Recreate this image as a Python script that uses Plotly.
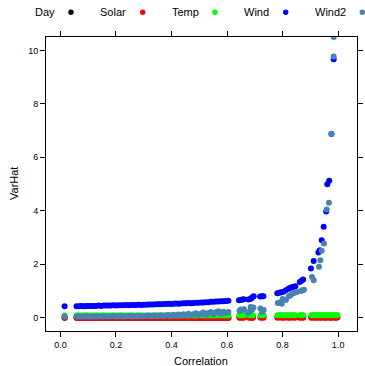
import plotly.graph_objects as go

# ---------------- data ----------------
series_names = ["Day", "Solar", "Temp", "Wind", "Wind2"]
series_colors = ["#000000", "#FF0000", "#00FF00", "#0000FF", "#4682B4"]

# correlation values shared by Day / Solar / Temp
corr = [
    0.015,
    0.058, 0.066, 0.075, 0.084, 0.093, 0.101, 0.110, 0.119, 0.128, 0.137,
    0.146, 0.155, 0.164, 0.173, 0.182, 0.191, 0.200, 0.209, 0.218, 0.227,
    0.236, 0.245, 0.254, 0.263, 0.272, 0.281, 0.290, 0.299, 0.308, 0.317,
    0.326, 0.335, 0.344, 0.353, 0.362, 0.371, 0.380, 0.389, 0.398, 0.407,
    0.416, 0.425, 0.434, 0.443, 0.452, 0.461, 0.470, 0.479, 0.488, 0.497,
    0.506, 0.515, 0.524, 0.533, 0.542, 0.551, 0.560, 0.569, 0.578, 0.587,
    0.596, 0.605,
    0.645, 0.650, 0.655, 0.660, 0.679, 0.684, 0.689, 0.693, 0.721, 0.726, 0.731,
    0.782, 0.790, 0.798, 0.806, 0.814, 0.822, 0.830, 0.838, 0.845, 0.863, 0.868, 0.874,
    0.904, 0.910, 0.916, 0.922, 0.928, 0.934, 0.940, 0.946, 0.952, 0.958, 0.964,
    0.970, 0.976, 0.982, 0.988, 0.994, 0.997,
]

day = [
    0.00,
    0.00, 0.00, 0.00, 0.00, 0.00, 0.00, 0.00, 0.00, 0.00, 0.00,
    0.00, 0.00, 0.00, 0.00, 0.00, 0.00, 0.00, 0.00, 0.00, 0.00,
    0.00, 0.00, 0.00, 0.00, 0.00, 0.00, 0.00, 0.00, 0.00, 0.00,
    0.00, 0.00, 0.00, 0.00, 0.00, 0.00, 0.00, 0.00, 0.00, 0.00,
    0.00, 0.00, 0.00, 0.00, 0.00, 0.00, 0.00, 0.00, 0.00, 0.00,
    0.00, 0.00, 0.00, 0.00, 0.00, 0.00, 0.00, 0.00, 0.00, 0.00,
    0.00, 0.00,
    0.01, 0.01, 0.01, 0.01, 0.01, 0.01, 0.01, 0.01, 0.01, 0.01, 0.01,
    0.01, 0.01, 0.01, 0.01, 0.01, 0.01, 0.01, 0.01, 0.01, 0.01, 0.01, 0.01,
    0.01, 0.01, 0.01, 0.01, 0.01, 0.01, 0.01, 0.01, 0.01, 0.01, 0.01,
    0.01, 0.01, 0.01, 0.01, 0.01, 0.01,
]

solar = [
    0.00,
    0.00, -0.01, 0.00, 0.00, -0.01, 0.00, 0.00, -0.01, 0.00, 0.00,
    -0.01, 0.00, 0.00, 0.00, -0.01, 0.00, 0.00, -0.01, 0.00, 0.00,
    0.00, -0.01, 0.00, 0.00, 0.00, -0.01, 0.00, 0.00, 0.00, -0.01,
    0.00, 0.00, 0.00, -0.01, 0.00, 0.00, 0.00, -0.01, 0.00, 0.00,
    -0.01, 0.00, 0.00, 0.00, -0.01, 0.00, 0.00, 0.00, -0.01, 0.00,
    0.00, -0.01, 0.00, 0.00, 0.00, -0.01, 0.00, 0.00, -0.01, 0.00,
    0.00, -0.01,
    0.00, 0.00, 0.01, 0.00, 0.00, 0.01, 0.00, 0.00, 0.00, 0.01, 0.00,
    0.00, 0.01, 0.00, 0.00, 0.01, 0.00, 0.00, 0.01, 0.00, 0.00, 0.01, 0.00,
    0.00, 0.01, 0.00, 0.00, 0.01, 0.00, 0.00, 0.01, 0.00, 0.00, 0.01,
    0.00, 0.00, 0.01, 0.00, 0.00, 0.01,
]

temp = [
    0.08,
    0.08, 0.09, 0.08, 0.08, 0.09, 0.08, 0.08, 0.08, 0.09, 0.08,
    0.08, 0.09, 0.08, 0.08, 0.08, 0.09, 0.08, 0.08, 0.09, 0.08,
    0.08, 0.08, 0.09, 0.08, 0.08, 0.09, 0.08, 0.08, 0.08, 0.09,
    0.08, 0.08, 0.09, 0.08, 0.08, 0.08, 0.09, 0.08, 0.08, 0.09,
    0.08, 0.08, 0.08, 0.09, 0.08, 0.08, 0.09, 0.08, 0.08, 0.08,
    0.09, 0.08, 0.08, 0.09, 0.08, 0.08, 0.08, 0.09, 0.08, 0.08,
    0.09, 0.08,
    0.09, 0.09, 0.10, 0.09, 0.09, 0.10, 0.09, 0.09, 0.09, 0.10, 0.09,
    0.09, 0.10, 0.09, 0.09, 0.10, 0.09, 0.09, 0.10, 0.09, 0.09, 0.10, 0.09,
    0.09, 0.10, 0.09, 0.09, 0.10, 0.09, 0.09, 0.10, 0.09, 0.09, 0.10,
    0.09, 0.09, 0.10, 0.09, 0.09, 0.10,
]

wind_x = [
    0.015,
    0.058, 0.066, 0.075, 0.084, 0.093, 0.101, 0.110, 0.119, 0.128, 0.137,
    0.146, 0.155, 0.164, 0.173, 0.182, 0.191, 0.200, 0.209, 0.218, 0.227,
    0.236, 0.245, 0.254, 0.263, 0.272, 0.281, 0.290, 0.299, 0.308, 0.317,
    0.326, 0.335, 0.344, 0.353, 0.362, 0.371, 0.380, 0.389, 0.398, 0.407,
    0.416, 0.425, 0.434, 0.443, 0.452, 0.461, 0.470, 0.479, 0.488, 0.497,
    0.506, 0.515, 0.524, 0.533, 0.542, 0.551, 0.560, 0.569, 0.578, 0.587,
    0.596, 0.605,
    0.643, 0.649, 0.655, 0.660, 0.677, 0.683, 0.688, 0.691, 0.696, 0.719, 0.725, 0.731,
    0.781, 0.788, 0.795, 0.803, 0.812, 0.821, 0.828, 0.835, 0.840, 0.846, 0.862, 0.868,
    0.874, 0.902, 0.912, 0.929, 0.934, 0.941, 0.948, 0.957, 0.961, 0.968, 0.976, 0.984,
]
wind_y = [
    0.43,
    0.43, 0.43, 0.44, 0.43, 0.44, 0.44, 0.44, 0.44, 0.44, 0.45,
    0.44, 0.45, 0.45, 0.45, 0.45, 0.46, 0.45, 0.46, 0.46, 0.46,
    0.47, 0.46, 0.47, 0.47, 0.47, 0.48, 0.47, 0.48, 0.48, 0.49,
    0.49, 0.49, 0.50, 0.50, 0.50, 0.51, 0.51, 0.52, 0.51, 0.52,
    0.53, 0.52, 0.53, 0.54, 0.54, 0.55, 0.54, 0.55, 0.56, 0.56,
    0.57, 0.57, 0.58, 0.58, 0.59, 0.59, 0.60, 0.60, 0.61, 0.61,
    0.62, 0.63,
    0.65, 0.66, 0.68, 0.69, 0.68, 0.70, 0.73, 0.76, 0.80, 0.79, 0.80, 0.80,
    0.91, 0.93, 0.95, 0.97, 1.02, 1.08, 1.12, 1.15, 1.16, 1.17, 1.33, 1.38,
    1.43, 1.84, 2.12, 2.44, 2.52, 2.90, 3.40, 3.97, 4.99, 5.12, 6.87, 9.67,
]

wind2_x = [
    0.015,
    0.058, 0.066, 0.075, 0.084, 0.093, 0.101, 0.110, 0.119, 0.128, 0.137,
    0.146, 0.155, 0.164, 0.173, 0.182, 0.191, 0.200, 0.209, 0.218, 0.227,
    0.236, 0.245, 0.254, 0.263, 0.272, 0.281, 0.290, 0.299, 0.308, 0.317,
    0.326, 0.335, 0.344, 0.353, 0.362, 0.371, 0.380, 0.389, 0.398, 0.407,
    0.416, 0.425, 0.434, 0.443, 0.452, 0.461, 0.470, 0.479, 0.488, 0.497,
    0.506, 0.515, 0.524, 0.533, 0.542, 0.551, 0.560, 0.569, 0.578, 0.587,
    0.596, 0.605,
    0.645, 0.650, 0.656, 0.661, 0.676, 0.681, 0.685, 0.690, 0.695, 0.720, 0.726, 0.732,
    0.783, 0.790, 0.797, 0.800, 0.812, 0.822, 0.828, 0.836, 0.842, 0.852, 0.866, 0.872,
    0.877, 0.906, 0.912, 0.931, 0.936, 0.941, 0.949, 0.959, 0.967, 0.976, 0.984, 0.984,
]
wind2_y = [
    0.04,
    0.04, 0.04, 0.04, 0.04, 0.04, 0.04, 0.04, 0.04, 0.04, 0.05,
    0.04, 0.04, 0.05, 0.04, 0.05, 0.05, 0.04, 0.05, 0.05, 0.04,
    0.05, 0.06, 0.05, 0.05, 0.06, 0.05, 0.07, 0.05, 0.06, 0.07,
    0.05, 0.08, 0.06, 0.07, 0.09, 0.05, 0.08, 0.10, 0.06, 0.11,
    0.07, 0.12, 0.08, 0.13, 0.09, 0.15, 0.10, 0.13, 0.16, 0.10,
    0.15, 0.19, 0.11, 0.17, 0.21, 0.13, 0.20, 0.24, 0.15, 0.22,
    0.18, 0.21,
    0.26, 0.30, 0.29, 0.31, 0.18, 0.23, 0.40, 0.30, 0.38, 0.34, 0.21, 0.29,
    0.55, 0.57, 0.52, 0.70, 0.66, 0.80, 0.84, 0.90, 0.93, 0.96, 1.00, 1.02,
    1.04, 1.52, 1.40, 1.90, 2.15, 2.50, 2.77, 4.05, 4.30, 6.88, 9.77, 10.50,
]

x_ticks = [0.0, 0.2, 0.4, 0.6, 0.8, 1.0]
x_ticktext = ["0.0", "0.2", "0.4", "0.6", "0.8", "1.0"]
y_ticks = [0, 2, 4, 6, 8, 10]
x_title = "Correlation"
y_title = "VarHat"

# ---------------- figure ----------------
FONT = "Liberation Sans, Arial, Helvetica, sans-serif"
series_x = [corr, corr, corr, wind_x, wind2_x]
series_y = [day, solar, temp, wind_y, wind2_y]

fig = go.Figure()
for name, color, xs, ys in zip(series_names, series_colors, series_x, series_y):
    fig.add_trace(go.Scatter(
        x=xs, y=ys, mode="markers", name=name,
        marker=dict(color=color, size=6, line=dict(width=0)),
        showlegend=False, hoverinfo="skip",
    ))

W, H = 365, 366
ML, MR, MT, MB = 46, 8, 37, 35
pw, ph = W - ML - MR, H - MT - MB

def px_x(px):
    return (px - ML) / pw

def px_y(py):
    return (H - MB - py) / ph

# key above the panel: text followed by a dot (lattice style)
key_text_right = [56.7, 128.3, 200.7, 271.0, 348.3]
key_dot_x = [71.0, 142.7, 215.0, 285.7, 362.3]
key_y = 12.3
annotations = []
shapes = []
for name, color, tr, dx in zip(series_names, series_colors, key_text_right, key_dot_x):
    annotations.append(dict(
        text=name, x=px_x(tr), y=px_y(key_y), xref="paper", yref="paper",
        xanchor="right", yanchor="middle", showarrow=False,
        font=dict(family=FONT, size=11, color="#000000"),
    ))
    shapes.append(dict(
        type="circle", xref="paper", yref="paper",
        xsizemode="pixel", ysizemode="pixel",
        xanchor=px_x(dx), yanchor=px_y(key_y),
        x0=-2.7, x1=2.7, y0=-2.7, y1=2.7,
        fillcolor=color, line=dict(width=0),
    ))

# axis titles
annotations.append(dict(
    text=x_title, x=px_x(201), y=px_y(361.0), xref="paper", yref="paper",
    xanchor="center", yanchor="middle", showarrow=False,
    font=dict(family=FONT, size=11, color="#000000"),
))
annotations.append(dict(
    text=y_title, x=px_x(14), y=px_y(184), xref="paper", yref="paper",
    xanchor="center", yanchor="middle", showarrow=False, textangle=-90,
    font=dict(family=FONT, size=11, color="#000000"),
))

axis_common = dict(
    showgrid=False, zeroline=False, showline=True, linecolor="#000000",
    linewidth=1, mirror="ticks", ticks="outside", ticklen=5, tickwidth=1,
    tickcolor="#000000", tickfont=dict(family=FONT, size=9, color="#000000"),
    automargin=False,
)

fig.update_layout(
    width=W, height=H,
    margin=dict(l=ML, r=MR, t=MT, b=MB, autoexpand=False),
    paper_bgcolor="white", plot_bgcolor="white",
    font=dict(family=FONT, color="#000000"),
    xaxis=dict(range=[-0.052, 1.068], tickvals=x_ticks, ticktext=x_ticktext,
               **axis_common),
    yaxis=dict(range=[-0.5, 10.5], tickvals=y_ticks, **axis_common),
    annotations=annotations,
    shapes=shapes,
    hovermode=False,
)

# the page's default 8px body margin would shift the chart; remove it
fig.write_html(
    "out.html",
    config={"displayModeBar": False, "staticPlot": True},
    post_script="document.body.style.margin='0';document.body.style.padding='0';"
                "document.documentElement.style.overflow='hidden';",
)
